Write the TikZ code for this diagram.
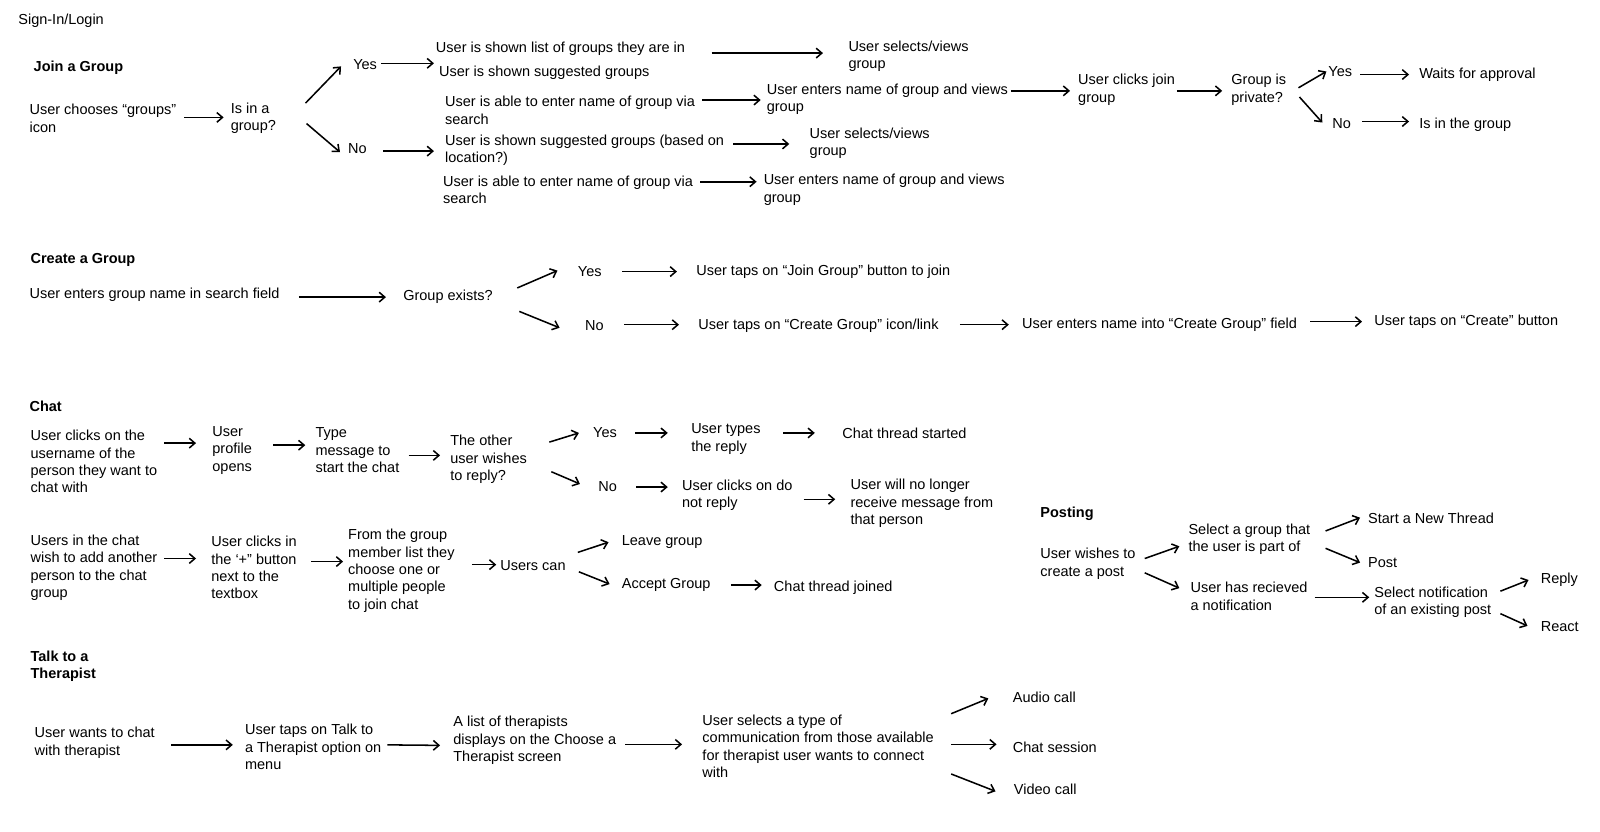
\documentclass[tikz,border=0pt]{standalone}
\usepackage{fontspec}
\setmainfont{Liberation Sans}
\usetikzlibrary{arrows.meta}
\begin{document}
\begin{tikzpicture}[x=1pt,y=-1pt,
  every node/.style={inner sep=0pt,outer sep=0pt,anchor=west,align=left,
    font=\fontsize{14.2}{17}\selectfont},
  head/.style={font=\fontsize{14.2}{17}\selectfont\bfseries},
  arr/.style={line width=1.5pt,-{Straight Barb[length=5.5pt,width=9.5pt]}}]
\fill[white] (0,0) rectangle (1567,814);

\node (signin) at (18,20) {Sign-In/Login};

% join a group
\node[head] (hjoin) at (33,66) {Join a Group};
\node (choose) at (29,116) {User chooses “groups”\\icon};
\node (isin) at (226,116) {Is in a\\group?};
\node (yesA) at (346,63) {Yes};
\node (noA) at (341,146) {No};
\node (glist) at (427,48) {User is shown list of groups they are in};
\node (gsugg) at (430,71) {User is shown suggested groups};
\node (gview1) at (831,55) {User selects/views\\group};
\node (gsearch1) at (436,108) {User is able to enter name of group via\\search};
\node (genter1) at (751,97) {User enters name of group and views\\group};
\node (clickjoin) at (1056,88) {User clicks join\\group};
\node (private) at (1206,88) {Group is\\private?};
\node (yesB) at (1301,70) {Yes};
\node (waits) at (1390,73) {Waits for approval};
\node (noB) at (1305,121) {No};
\node (ingroup) at (1390,122) {Is in the group};
\node (gloc) at (436,147) {User is shown suggested groups (based on\\location?)};
\node (gview2) at (793,140) {User selects/views\\group};
\node (gsearch2) at (434,186) {User is able to enter name of group via\\search};
\node (genter2) at (748,186) {User enters name of group and views\\group};

\draw[arr] ([shift={(8,-1)}]choose.east) -- ([shift={(-7,-1)}]isin.west);
\draw[arr] ([shift={(29,-15)}]isin.east) -- ([shift={(-12,2)}]yesA.west);
\draw[arr] ([shift={(30,5)}]isin.east) -- ([shift={(-8,3)}]noA.west);
\draw[arr] ([shift={(4,-1)}]yesA.east) -- ([shift={(-2,14)}]glist.west);
\draw[arr] ([shift={(16,2)}]noA.east) -- ([shift={(-11,1)}]gloc.west);
\draw[arr] ([shift={(26,4)}]glist.east) -- ([shift={(-25,-3)}]gview1.west);
\draw[arr] ([shift={(7,-10)}]gsearch1.east) -- ([shift={(-6,1)}]genter1.west);
\draw[arr] ([shift={(3,-8)}]genter1.east) -- ([shift={(-8,1)}]clickjoin.west);
\draw[arr] ([shift={(2,1)}]clickjoin.east) -- ([shift={(-9,1)}]private.west);
\draw[arr] ([shift={(12,-2)}]private.east) -- ([shift={(-2,0)}]yesB.west);
\draw[arr] ([shift={(13,7)}]private.east) -- ([shift={(-10,-1)}]noB.west);
\draw[arr] ([shift={(8,3)}]yesB.east) -- ([shift={(-10,0)}]waits.west);
\draw[arr] ([shift={(11,-2)}]noB.east) -- ([shift={(-10,-3)}]ingroup.west);
\draw[arr] ([shift={(9,-6)}]gloc.east) -- ([shift={(-20,1)}]gview2.west);
\draw[arr] ([shift={(7,-8)}]gsearch2.east) -- ([shift={(-7,-8)}]genter2.west);

% create a group
\node[head] (hcreate) at (30,255) {Create a Group};
\node (center) at (29,289) {User enters group name in search field};
\node (exists) at (395,291) {Group exists?};
\node (yesC) at (566,266) {Yes};
\node (jointap) at (682,266) {User taps on “Join Group” button to join};
\node (noC) at (573,319) {No};
\node (createtap) at (684,319) {User taps on “Create Group” icon/link};
\node (entername) at (1001,318) {User enters name into “Create Group” field};
\node (tapcreate) at (1346,315) {User taps on “Create” button};

\draw[arr] ([shift={(19,2)}]center.east) -- ([shift={(-17,0)}]exists.west);
\draw[arr] ([shift={(24,-9)}]exists.east) -- ([shift={(-20,-1)}]yesC.west);
\draw[arr] ([shift={(26,14)}]exists.east) -- ([shift={(-25,2)}]noC.west);
\draw[arr] ([shift={(20,0)}]yesC.east) -- ([shift={(-19,0)}]jointap.west);
\draw[arr] ([shift={(20,-1)}]noC.east) -- ([shift={(-19,-1)}]createtap.west);
\draw[arr] ([shift={(21,-1)}]createtap.east) -- ([shift={(-13,0)}]entername.west);
\draw[arr] ([shift={(13,-3)}]entername.east) -- ([shift={(-12,0)}]tapcreate.west);

% chat
\node[head] (hchat) at (29,398) {Chat};
\node (c1) at (30,452) {User clicks on the\\username of the\\person they want to\\chat with};
\node (c2) at (208,441) {User\\profile\\opens};
\node (c3) at (309,441) {Type\\message to\\start the chat};
\node (c4) at (441,450) {The other\\user wishes\\to reply?};
\node (yesD) at (581,424) {Yes};
\node (c5) at (677,430) {User types\\the reply};
\node (started) at (825,424) {Chat thread started};
\node (noD) at (586,477) {No};
\node (c6) at (668,485) {User clicks on do\\not reply};
\node (c7) at (833,493) {User will no longer\\receive message from\\that person};

\draw[arr] ([shift={(7,-18)}]c1.east) -- ([shift={(-16,-7)}]c2.west);
\draw[arr] ([shift={(21,-5)}]c2.east) -- ([shift={(-10,-5)}]c3.west);
\draw[arr] ([shift={(9,5)}]c3.east) -- ([shift={(-10,-4)}]c4.west);
\draw[arr] ([shift={(22,-17)}]c4.east) -- ([shift={(-14,0)}]yesD.west);
\draw[arr] ([shift={(24,12)}]c4.east) -- ([shift={(-18,-3)}]noD.west);
\draw[arr] ([shift={(18,0)}]yesD.east) -- ([shift={(-23,-6)}]c5.west);
\draw[arr] ([shift={(22,-6)}]c5.east) -- ([shift={(-27,0)}]started.west);
\draw[arr] ([shift={(19,0)}]noD.east) -- ([shift={(-14,-8)}]c6.west);
\draw[arr] ([shift={(11,4)}]c6.east) -- ([shift={(-15,-4)}]c7.west);

\node (a1) at (30,556) {Users in the chat\\wish to add another\\person to the chat\\group};
\node (a2) at (207,556) {User clicks in\\the ‘+” button\\next to the\\textbox};
\node (a3) at (341,559) {From the group\\member list they\\choose one or\\multiple people\\to join chat};
\node (a4) at (490,554) {Users can};
\node (leave) at (609,531) {Leave group};
\node (accept) at (609,573) {Accept Group};
\node (joined) at (758,576) {Chat thread joined};

\draw[arr] ([shift={(7,-9)}]a1.east) -- ([shift={(-15,-9)}]a2.west);
\draw[arr] ([shift={(14,-6)}]a2.east) -- ([shift={(-5,-9)}]a3.west);
\draw[arr] ([shift={(17,-6)}]a3.east) -- ([shift={(-4,-1)}]a4.west);
\draw[arr] ([shift={(12,-13)}]a4.east) -- ([shift={(-13,0)}]leave.west);
\draw[arr] ([shift={(13,6)}]a4.east) -- ([shift={(-12,-1)}]accept.west);
\draw[arr] ([shift={(20,0)}]accept.east) -- ([shift={(-12,-3)}]joined.west);

% posting
\node[head] (hpost) at (1019,503) {Posting};
\node (p1) at (1019,552) {User wishes to\\create a post};
\node (p2) at (1164,528) {Select a group that\\the user is part of};
\node (thread) at (1340,508) {Start a New Thread};
\node (post) at (1340,551) {Post};
\node (p3) at (1166,584) {User has recieved\\a notification};
\node (p4) at (1346,590) {Select notification\\of an existing post};
\node (reply) at (1509,568) {Reply};
\node (react) at (1509,614) {React};

\draw[arr] ([shift={(9,-5)}]p1.east) -- ([shift={(-9,7)}]p2.west);
\draw[arr] ([shift={(9,9)}]p1.east) -- ([shift={(-11,-8)}]p3.west);
\draw[arr] ([shift={(15,-8)}]p2.east) -- ([shift={(-8,-1)}]thread.west);
\draw[arr] ([shift={(15,9)}]p2.east) -- ([shift={(-8,0)}]post.west);
\draw[arr] ([shift={(7,1)}]p3.east) -- ([shift={(-5,-5)}]p4.west);
\draw[arr] ([shift={(9,-11)}]p4.east) -- ([shift={(-12,0)}]reply.west);
\draw[arr] ([shift={(9,11)}]p4.east) -- ([shift={(-13,-1)}]react.west);

% talk to a therapist
\node[head] (htalk) at (30,652.5) {Talk to a\\Therapist};
\node (t1) at (34,727.5) {User wants to chat\\with therapist};
\node (t2) at (240,731.5) {User taps on Talk to\\a Therapist option on\\menu};
\node (t3) at (444,725) {A list of therapists\\displays on the Choose a\\Therapist screen};
\node (t4) at (688,731) {User selects a type of\\communication from those available\\for therapist user wants to connect\\with};
\node (audio) at (992,683) {Audio call};
\node (chatsess) at (992,732) {Chat session};
\node (video) at (993,773) {Video call};

\draw[arr] ([shift={(16,2)}]t1.east) -- ([shift={(-12,-2)}]t2.west);
\draw[arr] ([shift={(6,-2)}]t2.east) -- ([shift={(-13,5)}]t3.west);
\draw[arr] ([shift={(9,4)}]t3.east) -- ([shift={(-20,-2)}]t4.west);
\draw[arr] ([shift={(17,-32)}]t4.east) -- ([shift={(-24,1)}]audio.west);
\draw[arr] ([shift={(17,-2)}]t4.east) -- ([shift={(-16,-3)}]chatsess.west);
\draw[arr] ([shift={(17,27)}]t4.east) -- ([shift={(-18,2)}]video.west);

\end{tikzpicture}
\end{document}
